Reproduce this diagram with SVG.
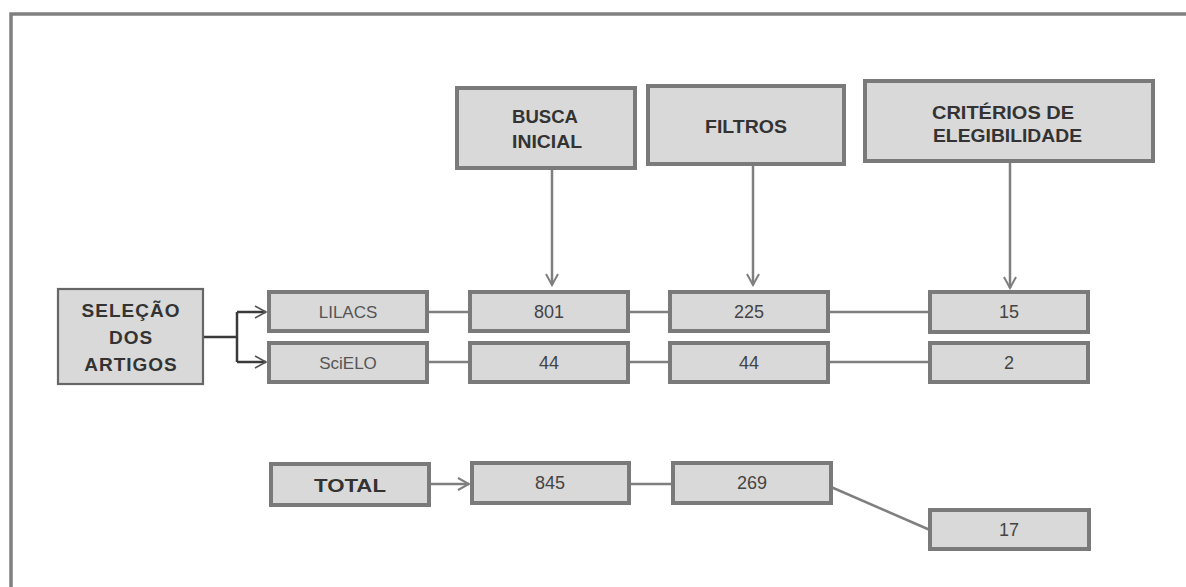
<svg xmlns="http://www.w3.org/2000/svg" width="1186" height="587" viewBox="0 0 1186 587">
<style>
.box{fill:#d9d9d9;stroke:#7a7a7a;stroke-width:4}
.sel{fill:#d9d9d9;stroke:#666;stroke-width:2.2}
.hd{font-family:"Liberation Sans Narrow","Liberation Sans",sans-serif;font-weight:bold;font-size:19px;fill:#333}
.num{font-family:"Liberation Sans Narrow","Liberation Sans",sans-serif;font-size:18px;fill:#444;text-anchor:middle}
.db{font-family:"Liberation Sans",Arial,sans-serif;font-size:17px;fill:#555;text-anchor:middle}
.big{font-family:"Liberation Sans",Arial,sans-serif;font-weight:bold;font-size:19px;fill:#333;text-anchor:middle;letter-spacing:1px}
.ln{stroke:#7f7f7f;stroke-width:2.5;fill:none}
.dk{stroke:#3a3a3a;stroke-width:2.5;fill:none}
</style>
<defs>
<marker id="ah" markerWidth="14" markerHeight="14" refX="12" refY="7" orient="auto" markerUnits="userSpaceOnUse">
<path d="M1,1 L12,7 L1,13" fill="none" stroke="#7f7f7f" stroke-width="2"/>
</marker>
<marker id="ahd" markerWidth="14" markerHeight="14" refX="12" refY="7" orient="auto" markerUnits="userSpaceOnUse">
<path d="M1,1 L12,7 L1,13" fill="none" stroke="#555" stroke-width="1.6"/>
</marker>
</defs>
<rect width="1186" height="587" fill="#fff"/>
<path d="M11,587 V14 H1186" fill="none" stroke="#808080" stroke-width="3.5"/>

<g id="connectors">
<line class="ln" x1="552" y1="168" x2="552" y2="285" marker-end="url(#ah)"/>
<line class="ln" x1="753" y1="164" x2="753" y2="285" marker-end="url(#ah)"/>
<line class="ln" x1="1010" y1="161" x2="1010" y2="288" marker-end="url(#ah)"/>
<path class="dk" d="M203,337 H237 M237,312 V362"/>
<line class="dk" x1="237" y1="312" x2="266" y2="312" marker-end="url(#ahd)"/>
<line class="dk" x1="237" y1="362" x2="266" y2="362" marker-end="url(#ahd)"/>
<line class="ln" x1="427" y1="312" x2="470" y2="312"/>
<line class="ln" x1="628" y1="312" x2="670" y2="312"/>
<line class="ln" x1="828" y1="312" x2="930" y2="312"/>
<line class="ln" x1="427" y1="362" x2="470" y2="362"/>
<line class="ln" x1="628" y1="362" x2="670" y2="362"/>
<line class="ln" x1="828" y1="362" x2="930" y2="362"/>
<line class="ln" x1="429" y1="484" x2="469" y2="484" marker-end="url(#ah)"/>
<line class="ln" x1="629" y1="484" x2="673" y2="484"/>
<line class="ln" x1="831" y1="487" x2="930" y2="530"/>
</g>

<g id="busca">
<rect class="box" x="457" y="88" width="178" height="80"/>
<text class="hd" x="512" y="123" textLength="66" lengthAdjust="spacingAndGlyphs">BUSCA</text>
<text class="hd" x="512" y="148" textLength="70" lengthAdjust="spacingAndGlyphs">INICIAL</text>
</g>
<g id="filtros">
<rect class="box" x="648" y="86" width="196" height="78"/>
<text class="hd" x="705" y="133" textLength="82" lengthAdjust="spacingAndGlyphs">FILTROS</text>
</g>
<g id="criterios">
<rect class="box" x="865" y="81" width="288" height="80"/>
<text class="hd" x="932" y="119" textLength="142" lengthAdjust="spacingAndGlyphs">CRITÉRIOS DE</text>
<text class="hd" x="933" y="142" textLength="149" lengthAdjust="spacingAndGlyphs">ELEGIBILIDADE</text>
</g>

<g id="selecao">
<rect class="sel" x="58" y="289" width="145" height="95"/>
<text class="big" x="131" y="317">SELEÇÃO</text>
<text class="big" x="131" y="344">DOS</text>
<text class="big" x="131" y="371">ARTIGOS</text>
</g>

<g id="lilacs">
<rect class="box" x="269" y="292" width="158" height="39"/>
<text class="db" x="348" y="318">LILACS</text>
</g>
<g id="scielo">
<rect class="box" x="269" y="343" width="158" height="39"/>
<text class="db" x="348" y="369">SciELO</text>
</g>

<g id="n801"><rect class="box" x="470" y="292" width="158" height="39"/><text class="num" x="549" y="318">801</text></g>
<g id="n225"><rect class="box" x="670" y="292" width="158" height="39"/><text class="num" x="749" y="318">225</text></g>
<g id="n15"><rect class="box" x="930" y="292" width="158" height="40"/><text class="num" x="1009" y="318">15</text></g>
<g id="n44a"><rect class="box" x="470" y="343" width="158" height="39"/><text class="num" x="549" y="369">44</text></g>
<g id="n44b"><rect class="box" x="670" y="343" width="158" height="39"/><text class="num" x="749" y="369">44</text></g>
<g id="n2"><rect class="box" x="930" y="343" width="158" height="39"/><text class="num" x="1009" y="369">2</text></g>

<g id="total">
<rect class="box" x="271" y="464" width="158" height="41"/>
<text class="hd" x="350" y="492" text-anchor="middle" font-size="22" textLength="72" lengthAdjust="spacingAndGlyphs">TOTAL</text>
</g>
<g id="n845"><rect class="box" x="472" y="463" width="157" height="40"/><text class="num" x="550" y="489">845</text></g>
<g id="n269"><rect class="box" x="673" y="463" width="158" height="40"/><text class="num" x="752" y="489">269</text></g>
<g id="n17"><rect class="box" x="930" y="510" width="159" height="39"/><text class="num" x="1009" y="536">17</text></g>
</svg>
